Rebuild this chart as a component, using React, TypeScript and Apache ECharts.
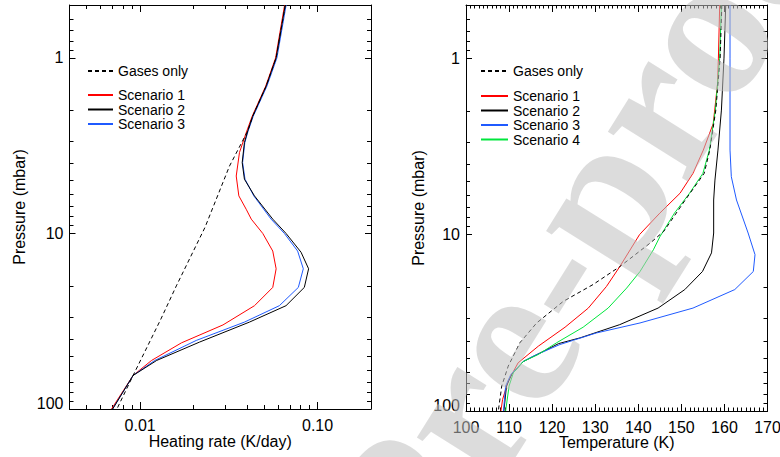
import React, { useEffect, useRef } from 'react';
import * as echarts from 'echarts';

const FONT = '"Liberation Sans", Arial, Helvetica, sans-serif';

// ---------- Left panel: heating rate (K/day) vs pressure (mbar) ----------
const heatP_gases = [0.5, 1.0, 1.45, 2.15, 2.61, 4.13, 9.24, 19.9, 30.7, 64.4, 100];
const heatV_gases = [0.0658, 0.0584, 0.0513, 0.0431, 0.0404, 0.0319, 0.0232, 0.016, 0.0131, 0.00913, 0.0074];

const heatP_s1 = [0.5, 1.0, 1.45, 2.15, 2.67, 3.46, 4.71, 6.11, 7.28, 8.29, 10, 12.6, 15.9, 20.3, 25.8, 33.2, 42.0, 52.9, 64.4, 100];
const heatV_s1 = [0.0652, 0.058, 0.051, 0.0428, 0.0396, 0.0363, 0.0348, 0.036, 0.0396, 0.0423, 0.0491, 0.0559, 0.0584, 0.0559, 0.0441, 0.0293, 0.0171, 0.0116, 0.00913, 0.0069];

const heatP_s2 = [0.5, 1.0, 1.45, 2.15, 2.61, 3.04, 3.95, 4.91, 6.11, 8.29, 10, 12.8, 15.9, 20.3, 25.8, 32, 41.6, 52.9, 64.4, 100];
const heatV_s2 = [0.0658, 0.0584, 0.0513, 0.0431, 0.0404, 0.0387, 0.0376, 0.0387, 0.0441, 0.0559, 0.0664, 0.0807, 0.089, 0.0842, 0.0664, 0.0413, 0.0216, 0.0124, 0.00913, 0.007];

const heatP_s3 = [0.5, 1.0, 1.45, 2.15, 2.61, 3.04, 3.95, 4.91, 6.11, 8.29, 10, 12.6, 15.9, 20.3, 25.8, 32, 40.7, 52.9, 64.4, 100];
const heatV_s3 = [0.0665, 0.059, 0.0518, 0.0434, 0.0406, 0.0389, 0.0378, 0.039, 0.0437, 0.0547, 0.065, 0.0772, 0.0831, 0.0779, 0.0609, 0.0387, 0.0207, 0.0121, 0.00913, 0.007];

// ---------- Right panel: temperature (K) vs pressure (mbar) ----------
const tempP_gases = [0.5, 1, 1.97, 3.32, 4.5, 6.37, 9.6, 11.2, 15.2, 19.2, 23.9, 31.7, 41.1, 55.7, 72.2, 100];
const tempT_gases = [159.4, 159.0, 158.0, 156.6, 155.3, 150.9, 145.9, 142.7, 135.7, 129.5, 122.6, 116.4, 112.5, 109.8, 108.3, 107.5];

const tempP_s1 = [0.5, 1, 1.4, 2.35, 3.32, 4.5, 5.83, 7.56, 10, 15.2, 19.7, 26.1, 33.5, 42.9, 53.3, 67.7, 85.9, 100];
const tempT_s1 = [158.9, 158.6, 158.4, 157.4, 155.1, 152.7, 149.7, 145.0, 140.3, 135.7, 132.6, 128.4, 123.0, 116.8, 112.1, 109.8, 108.5, 108.1];

const tempP_s2 = [0.5, 1, 1.97, 3.32, 4.91, 6.37, 9.8, 12.7, 16.2, 20.5, 26.1, 32.4, 38.5, 41.5, 52.4, 62.1, 72.2, 100];
const tempT_s2 = [160.3, 159.9, 159.3, 158.5, 157.8, 157.5, 157.5, 157.0, 154.9, 150.8, 144.6, 135.7, 126.5, 121.5, 113.3, 110.6, 109.4, 108.8];

const tempP_s3 = [0.5, 1, 3.32, 4.7, 6.37, 9.8, 13.0, 16.2, 20.5, 26.1, 31.7, 36.1, 42.0, 48.9, 52.4, 62.1, 72.2, 100];
const tempT_s3 = [161.3, 161.3, 161.3, 161.6, 162.8, 165.5, 167.1, 166.7, 162.4, 152.7, 140.4, 130.3, 121.8, 115.6, 113.3, 110.4, 109.2, 108.7];

const tempP_s4 = [0.5, 1, 1.97, 3.32, 4.5, 5.83, 7.56, 10.3, 12.2, 16.2, 20.1, 26.1, 33.5, 41.1, 47.8, 52.4, 60.7, 72.2, 100];
const tempT_s4 = [159.3, 158.9, 157.9, 156.5, 155.0, 151.9, 148.4, 145.0, 143.5, 140.4, 137.3, 133.0, 127.2, 121.0, 116.8, 113.3, 111.0, 110.0, 109.2];

// ---------- Axis ticks & labels ----------
const pressureMajor = [1, 10, 100];
const pressureMinor = [0.6, 0.7, 0.8, 0.9, 2, 3, 4, 5, 6, 7, 8, 9, 20, 30, 40, 50, 60, 70, 80, 90];
const heatMajor = [0.01, 0.1];
const heatMajorLabels = ['0.01', '0.10'];
const heatMinor = [0.005, 0.006, 0.007, 0.008, 0.009, 0.02, 0.03, 0.04, 0.05, 0.06, 0.07, 0.08, 0.09];

const seriesNames = ['Gases only', 'Scenario 1', 'Scenario 2', 'Scenario 3', 'Scenario 4'];
const seriesColors = ['#000000', '#ff0000', '#000000', '#1f5aff', '#00e63c'];

const WATERMARK = 'Journal Pre-proof';

function pairs(xs: number[], ps: number[]) {
  return ps.map((p, i) => [xs[i], p]);
}

export default function App() {
  const ref = useRef<HTMLDivElement>(null);

  useEffect(() => {
    if (!ref.current) return;
    const chart = echarts.init(ref.current, null, { renderer: 'svg' });

    const black = '#000';
    const lab = { color: black, fontSize: 16, fontFamily: FONT };

    const logX = (grid: number, position: string, vals: number[], len: number, line: boolean, labels: boolean, extra: any = {}) => ({
      type: 'log', gridIndex: grid, position, min: 0.004, max: 0.2, logBase: 10,
      axisLine: { show: line, onZero: false, lineStyle: { color: black, width: 1 } },
      axisTick: { show: true, inside: true, length: len, customValues: vals, lineStyle: { color: black, width: 1 } },
      axisLabel: labels
        ? {
            show: true, customValues: vals, margin: 8, ...lab,
            formatter: (v: number) => {
              const i = heatMajor.findIndex((m) => Math.abs(m - v) / m < 1e-6);
              return i >= 0 ? heatMajorLabels[i] : '';
            },
          }
        : { show: false },
      splitLine: { show: false },
      ...extra,
    });

    const logY = (grid: number, position: string, vals: number[], len: number, line: boolean, labels: boolean, extra: any = {}) => ({
      type: 'log', gridIndex: grid, position, min: 0.5, max: 100, logBase: 10, inverse: true,
      axisLine: { show: line, onZero: false, lineStyle: { color: black, width: 1 } },
      axisTick: { show: true, inside: true, length: len, customValues: vals, lineStyle: { color: black, width: 1 } },
      axisLabel: labels
        ? {
            show: true, customValues: vals, margin: 6, ...lab,
            formatter: (v: number) => (Math.abs(v - 100) < 1e-6 ? '{b|100}' : String(Math.round(v))),
            rich: { b: { ...lab, padding: [0, 0, 11, 0] } },
          }
        : { show: false },
      splitLine: { show: false },
      ...extra,
    });

    const nameY = { name: 'Pressure (mbar)', nameLocation: 'middle', nameGap: 42, nameMoveOverlap: false, nameTextStyle: { ...lab } };

    const mk = (name: string, xs: number[], ps: number[], color: string, xi: number, yi: number, dashed: boolean) => ({
      type: 'line', name, xAxisIndex: xi, yAxisIndex: yi, data: pairs(xs, ps), symbol: 'none', silent: true,
      lineStyle: { color, width: 1, type: dashed ? [4, 3] : 'solid' },
      itemStyle: { color },
    });

    const legendCommon = {
      itemHeight: 14, itemGap: 0.5, padding: 0, selectedMode: false,
      itemStyle: { opacity: 0 },
      textStyle: { color: black, fontSize: 14, fontFamily: FONT },
    };

    chart.setOption({
      animation: false,
      backgroundColor: '#fff',
      grid: [
        { left: 69.5, right: 409, top: 5, bottom: 48, outerBoundsMode: 'none', containLabel: false },
        { left: 466, right: 12.5, top: 5, bottom: 46, outerBoundsMode: 'none', containLabel: false },
      ],
      xAxis: [
        logX(0, 'bottom', heatMajor, 7, true, true, { name: 'Heating rate (K/day)', nameLocation: 'middle', nameGap: 24, nameMoveOverlap: false, nameTextStyle: { ...lab } }),
        logX(0, 'bottom', heatMinor, 4, false, false),
        logX(0, 'top', heatMajor, 7, true, false),
        logX(0, 'top', heatMinor, 4, false, false),
        {
          type: 'value', gridIndex: 1, position: 'bottom', min: 100, max: 170, interval: 10,
          axisLine: { show: true, onZero: false, lineStyle: { color: black, width: 1 } },
          axisTick: { show: true, inside: true, length: 7, lineStyle: { color: black, width: 1 } },
          minorTick: { show: true, splitNumber: 10, length: 3.5, lineStyle: { color: black, width: 1 } },
          axisLabel: { show: true, margin: 8, ...lab },
          splitLine: { show: false },
          name: 'Temperature (K)', nameLocation: 'middle', nameGap: 23.5, nameMoveOverlap: false, nameTextStyle: { ...lab },
        },
        {
          type: 'value', gridIndex: 1, position: 'top', min: 100, max: 170, interval: 10,
          axisLine: { show: true, onZero: false, lineStyle: { color: black, width: 1 } },
          axisTick: { show: true, inside: true, length: 7, lineStyle: { color: black, width: 1 } },
          minorTick: { show: true, splitNumber: 10, length: 3.5, lineStyle: { color: black, width: 1 } },
          axisLabel: { show: false },
          splitLine: { show: false },
        },
      ],
      yAxis: [
        logY(0, 'left', pressureMajor, 6, true, true, nameY),
        logY(0, 'left', pressureMinor, 4, false, false),
        logY(0, 'right', pressureMajor, 6, true, false),
        logY(0, 'right', pressureMinor, 4, false, false),
        logY(1, 'left', pressureMajor, 6, true, true, { ...nameY, nameGap: 40 }),
        logY(1, 'left', pressureMinor, 4, false, false),
        logY(1, 'right', pressureMajor, 6, true, false),
        logY(1, 'right', pressureMinor, 4, false, false),
      ],
      legend: [
        { ...legendCommon, itemWidth: 25, data: [seriesNames[0]], left: 87, top: 64 },
        { ...legendCommon, itemWidth: 25, data: seriesNames.slice(1, 4), orient: 'vertical', left: 87, top: 88 },
        { ...legendCommon, itemWidth: 27, data: [seriesNames[0]], left: 480, top: 64 },
        { ...legendCommon, itemWidth: 27, data: seriesNames.slice(1, 5), orient: 'vertical', left: 480, top: 89 },
      ],
      series: [
        mk(seriesNames[1], heatV_s1, heatP_s1, seriesColors[1], 0, 0, false),
        mk(seriesNames[3], heatV_s3, heatP_s3, seriesColors[3], 0, 0, false),
        mk(seriesNames[2], heatV_s2, heatP_s2, seriesColors[2], 0, 0, false),
        mk(seriesNames[0], heatV_gases, heatP_gases, seriesColors[0], 0, 0, true),

        mk(seriesNames[1], tempT_s1, tempP_s1, seriesColors[1], 4, 4, false),
        mk(seriesNames[2], tempT_s2, tempP_s2, seriesColors[2], 4, 4, false),
        mk(seriesNames[3], tempT_s3, tempP_s3, seriesColors[3], 4, 4, false),
        mk(seriesNames[4], tempT_s4, tempP_s4, seriesColors[4], 4, 4, false),
        mk(seriesNames[0], tempT_gases, tempP_gases, seriesColors[0], 4, 4, true),
      ],
      graphic: [
        {
          type: 'text', x: 398, y: 514, rotation: (58 * Math.PI) / 180, z: 100, silent: true,
          style: {
            text: WATERMARK, fontSize: 205, fontWeight: 'bold',
            fontFamily: '"Liberation Serif", "Times New Roman", serif',
            fill: '#c0c0c0', opacity: 0.55, align: 'center', verticalAlign: 'middle',
          },
        },
      ],
    });

    return () => chart.dispose();
  }, []);

  return <div ref={ref} style={{ position: 'fixed', left: 0, top: 0, width: 780, height: 457 }} />;
}
